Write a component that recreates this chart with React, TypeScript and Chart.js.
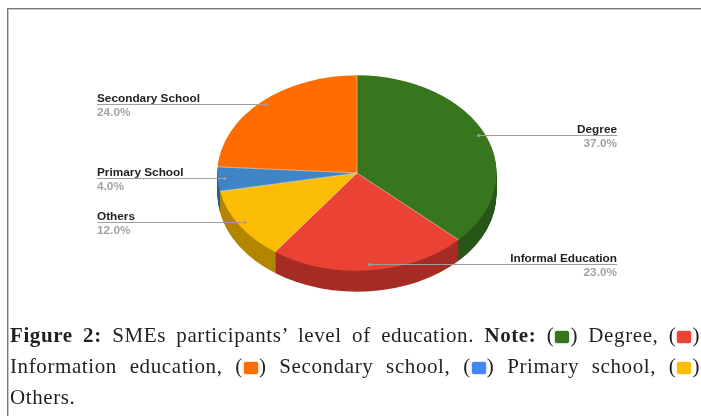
import React, { useEffect, useRef } from 'react';
import { Chart, registerables } from 'chart.js';

Chart.register(...registerables);

const categories = ['Degree', 'Informal Education', 'Others', 'Primary School', 'Secondary School'];
const values = [37, 23, 12, 4, 24];
const valueLabels = ['37.0%', '23.0%', '12.0%', '4.0%', '24.0%'];
const topColors = ['#38761d', '#ea4335', '#fbbc04', '#3d85c6', '#ff6d01'];
const sideColors = ['#28561a', '#a52d25', '#b38600', '#2b5f8e', '#b34d00'];

const RATIO = 0.7;
const DEPTH = 21;
const LEFT_X = 97;
const RIGHT_X = 617;

function squash(ctx: CanvasRenderingContext2D, cx: number, cy: number) {
  ctx.translate(cx, cy);
  ctx.scale(1, RATIO);
  ctx.translate(-cx, -cy);
}

const pie3d = {
  id: 'pie3d',
  beforeDatasetsDraw(chart: any) {
    const ctx: CanvasRenderingContext2D = chart.ctx;
    const meta = chart.getDatasetMeta(0);
    const arcs = meta.data as any[];
    if (!arcs.length) return;
    const cx = arcs[0].x;
    const cy = arcs[0].y;
    for (let d = DEPTH; d >= 1; d--) {
      ctx.save();
      ctx.translate(0, d);
      squash(ctx, cx, cy);
      arcs.forEach((a, i) => {
        ctx.beginPath();
        ctx.moveTo(cx, cy);
        ctx.arc(cx, cy, a.outerRadius, a.startAngle, a.endAngle);
        ctx.closePath();
        ctx.fillStyle = sideColors[i];
        ctx.fill();
      });
      ctx.restore();
    }
    ctx.save();
    squash(ctx, cx, cy);
  },
  afterDatasetsDraw(chart: any) {
    const ctx: CanvasRenderingContext2D = chart.ctx;
    ctx.restore();
    const meta = chart.getDatasetMeta(0);
    const arcs = meta.data as any[];
    if (!arcs.length) return;
    const cx = arcs[0].x;
    const cy = arcs[0].y;
    ctx.save();
    ctx.strokeStyle = 'rgba(255,255,255,0.45)';
    ctx.lineWidth = 1;
    arcs.forEach((a) => {
      ctx.beginPath();
      ctx.moveTo(cx, cy);
      ctx.lineTo(cx + a.outerRadius * Math.cos(a.startAngle), cy + a.outerRadius * RATIO * Math.sin(a.startAngle));
      ctx.stroke();
    });
    ctx.restore();
  },
  afterDraw(chart: any) {
    const ctx: CanvasRenderingContext2D = chart.ctx;
    const meta = chart.getDatasetMeta(0);
    const arcs = meta.data as any[];
    if (!arcs.length) return;
    const cx = arcs[0].x;
    const cy = arcs[0].y;
    ctx.save();
    arcs.forEach((a, i) => {
      const mid = (a.startAngle + a.endAngle) / 2;
      const r = a.outerRadius * 0.95;
      const px = cx + r * Math.cos(mid);
      const py = Math.round(cy + r * RATIO * Math.sin(mid) - 1) + 0.5;
      const right = Math.cos(mid) >= 0;
      const tx = right ? RIGHT_X : LEFT_X;
      ctx.strokeStyle = '#9e9e9e';
      ctx.lineWidth = 1;
      ctx.beginPath();
      ctx.moveTo(px, py);
      ctx.lineTo(tx, py);
      ctx.stroke();
      ctx.fillStyle = '#9e9e9e';
      ctx.beginPath();
      ctx.arc(px, py, 1.6, 0, Math.PI * 2);
      ctx.fill();
      ctx.textAlign = right ? 'right' : 'left';
      ctx.textBaseline = 'alphabetic';
      ctx.font = 'bold 11.8px "Liberation Sans", Arial, sans-serif';
      ctx.fillStyle = '#1f1f1f';
      ctx.fillText(categories[i], tx, py - 3);
      ctx.fillStyle = '#a3a3a3';
      ctx.fillText(valueLabels[i], tx, py + 11.5);
    });
    ctx.restore();
  },
};

function Swatch({ color }: { color: string }) {
  return (
    <span
      style={{
        display: 'inline-block',
        width: 14,
        height: 12,
        background: color,
        borderRadius: 2,
        boxShadow: `0 0 1.5px ${color}`,
        verticalAlign: '-1px',
        margin: '0 1px',
      }}
    />
  );
}

export default function App() {
  const canvasRef = useRef<HTMLCanvasElement | null>(null);

  useEffect(() => {
    if (!canvasRef.current) return;
    const chart = new Chart(canvasRef.current, {
      type: 'pie',
      data: {
        labels: categories,
        datasets: [
          {
            data: values,
            backgroundColor: topColors,
            borderWidth: 0,
          },
        ],
      },
      options: {
        animation: false,
        responsive: true,
        maintainAspectRatio: false,
        events: [],
        layout: { padding: { left: 217.5, right: 204.5, top: 33.5, bottom: 103.5 } },
        plugins: {
          legend: { display: false },
          tooltip: { enabled: false },
        },
      },
      plugins: [pie3d],
    });
    return () => chart.destroy();
  }, []);

  const lineStyle: React.CSSProperties = {
    height: 31,
    lineHeight: '31px',
    whiteSpace: 'nowrap',
  };
  const justified: React.CSSProperties = {
    ...lineStyle,
    whiteSpace: 'normal',
    textAlign: 'justify',
    textAlignLast: 'justify' as any,
    overflow: 'hidden',
  };

  return (
    <div
      style={{
        position: 'fixed',
        left: 0,
        top: 0,
        width: 701,
        height: 416,
        overflow: 'hidden',
        background: '#ffffff',
      }}
    >
      <div
        style={{
          position: 'absolute',
          left: 7,
          top: 8,
          width: 900,
          height: 600,
          borderTop: '1px solid #777',
          borderLeft: '1px solid #777',
          boxShadow: 'inset 1px 1px 0 #c8c8c8',
        }}
      />
      <div style={{ position: 'absolute', left: 0, top: 0, width: 701, height: 416 }}>
        <canvas ref={canvasRef} />
      </div>
      <div
        style={{
          position: 'absolute',
          left: 10,
          top: 320,
          width: 690,
          fontFamily: '"Liberation Serif", "Times New Roman", serif',
          fontSize: 21,
          letterSpacing: '0.6px',
          color: '#231f20',
        }}
      >
        <div style={justified}>
          <b>Figure 2:</b> SMEs participants’ level of education. <b>Note:</b> (<Swatch color="#38761d" />) Degree, (<Swatch color="#ea4335" />)
        </div>
        <div style={justified}>
          Information education, (<Swatch color="#ff6d01" />) Secondary school, (<Swatch color="#4285f4" />) Primary school, (<Swatch color="#fbbc04" />)
        </div>
        <div style={lineStyle}>Others.</div>
      </div>
    </div>
  );
}
